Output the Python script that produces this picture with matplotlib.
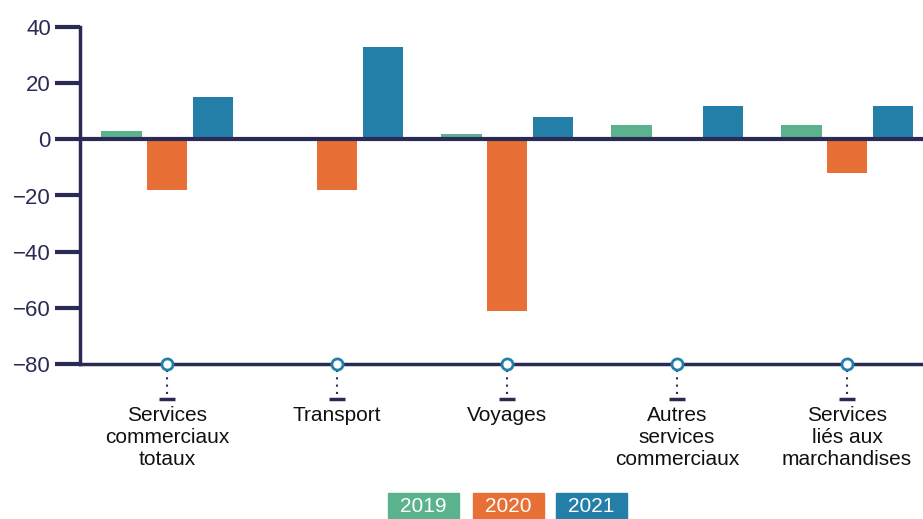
import matplotlib.pyplot as plt
import matplotlib.transforms as mtransforms
from matplotlib.patches import Rectangle
import numpy as np

categories = ["Services\ncommerciaux\ntotaux", "Transport", "Voyages",
              "Autres\nservices\ncommerciaux", "Services\nliés aux\nmarchandises"]
years = ["2019", "2020", "2021"]
v2019 = [3, 0, 2, 5, 5]
v2020 = [-18, -18, -61, 0, -12]
v2021 = [15, 33, 8, 12, 12]
yticks = [-80, -60, -40, -20, 0, 20, 40]

colors = ["#5bb38e", "#e86f36", "#247fa8"]
navy = "#2a2b55"

plt.rcParams['font.family'] = ['Liberation Sans', 'DejaVu Sans']

fig = plt.figure(figsize=(9.23, 5.19), dpi=100)
ax = fig.add_axes([80/923, 1-364/519, 1-80/923, (364-27)/519])

x = np.arange(len(categories))
w = 0.24
off = 0.27
for i, (vals, c) in enumerate(zip([v2019, v2020, v2021], colors)):
    ax.bar(x + (i-1)*off, vals, width=w, color=c, zorder=2)

ax.axhline(0, color=navy, lw=3, zorder=3)
ax.set_xlim(-0.512, 4.447)
ax.set_ylim(-80, 40)
ax.set_yticks(yticks)
ax.set_yticklabels([str(t).replace('-', '\u2212') for t in yticks])
ax.tick_params(axis='y', length=18, width=3, color=navy, labelcolor=navy,
               labelsize=16, pad=3)
ax.set_xticks([])
for s in ['top', 'right']:
    ax.spines[s].set_visible(False)
ax.spines['left'].set_color(navy)
ax.spines['left'].set_linewidth(2.5)
ax.spines['bottom'].set_color(navy)
ax.spines['bottom'].set_linewidth(2.5)

trans = mtransforms.blended_transform_factory(ax.transData, ax.transAxes)
px = 1/337  # one pixel in axes fraction (vertical)
for xi, lab in zip(x, categories):
    ax.plot([xi, xi], [-6*px, -31*px], transform=trans, clip_on=False,
            color=navy, lw=1.5, ls=(0, (1, 2.5)), zorder=4)
    ax.plot([xi-0.045, xi+0.045], [-35*px, -35*px], transform=trans, clip_on=False,
            color=navy, lw=2.5, solid_capstyle='butt', zorder=4)
    ax.plot([xi], [0], transform=trans, clip_on=False, marker='o', ms=8,
            mfc='white', mec=colors[2], mew=2, zorder=5)
    ax.text(xi, -42*px, lab, transform=trans, ha='center', va='top',
            fontsize=15, color='#111111', linespacing=1.2)

# legend boxes
lefts = [388, 473, 556]
for l, yr, c in zip(lefts, years, colors):
    fig.patches.append(Rectangle((l/923, 0), 71/923, 26/519,
                                 transform=fig.transFigure, color=c))
    fig.text((l+35.5)/923, 1-506/519, yr, ha='center', va='center',
             color='white', fontsize=15)

fig.savefig("out.png", dpi=100)
